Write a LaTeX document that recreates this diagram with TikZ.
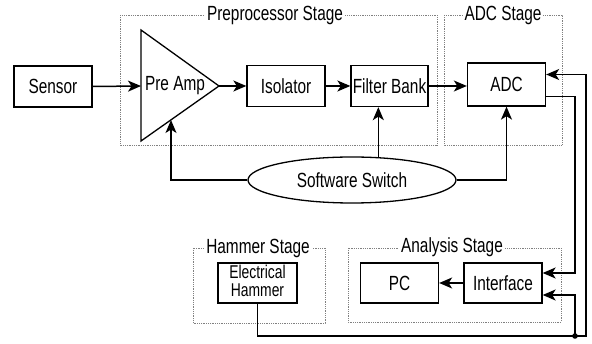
\documentclass[tikz,border=0pt]{standalone}
\usepackage{fontspec}
\setmainfont{Liberation Sans}[FakeStretch=0.75]
\usetikzlibrary{arrows.meta,shapes.geometric,calc}
\begin{document}
\begin{tikzpicture}[x=1pt,y=-1pt,
  txt/.style={font=\fontsize{20.5}{20.5}\selectfont},
  blk/.style={draw, line width=1.3pt, minimum width=78pt, minimum height=41pt, inner sep=0pt, txt},
  stage/.style={draw=black!50, densely dotted, line width=0.8pt},
  stlabel/.style={fill=white, inner sep=2pt, txt},
  conn/.style={line width=1.5pt, -{Stealth[length=13pt,width=11pt,inset=3.5pt]}},
  wire/.style={line width=1.5pt}]
\useasboundingbox (0,0) rectangle (592,344);
% stage frames
\draw[stage] (120,15) rectangle (437,145);
\draw[stage] (444,15) rectangle (562,145);
\draw[stage] (193,248) rectangle (325,323);
\draw[stage] (348,248) rectangle (561,322);
\node[stlabel] (lpre) at (275,15) {Preprocessor Stage};
\node[stlabel] (ladc) at (503,15) {ADC Stage};
\node[stlabel] (lham) at (258,248) {Hammer Stage};
\node[stlabel] (lana) at (452,247) {Analysis Stage};
% blocks
\node[blk] (sensor) at (53,86.5) {Sensor};
\coordinate (ampin) at (141,86);
\coordinate (ampout) at (219,86);
\coordinate (amptop) at (141,30);
\coordinate (ampbase) at (141,141);
\coordinate (ampbot) at (171,120);
\draw[line width=1.3pt, line join=miter] (amptop) -- (ampout) -- (ampbase) -- cycle;
\node[txt, inner sep=0pt] (preamp) at (175,86) {Pre Amp};
\node[blk] (iso) at (286,86) {Isolator};
\node[blk, minimum width=77pt] (filter) at (389.5,86) {Filter Bank};
\node[blk, minimum height=43pt] (adc) at (506.5,84.5) {ADC};
\node[draw, ellipse, line width=1.3pt, minimum width=208pt, minimum height=46pt, inner sep=0pt, txt] (sw) at (352,180) {Software Switch};
\node[blk, minimum height=40pt] (pc) at (399.5,283) {PC};
\node[blk, minimum height=40pt] (iface) at (503,283) {Interface};
\node[draw, line width=1.3pt, minimum width=79pt, minimum height=40pt, inner sep=0pt] (ham) at (257.5,283) {};
\node[font=\fontsize{18.5}{18.5}\selectfont, inner sep=0pt, anchor=base] (hamA) at (257.5,279) {Electrical};
\node[font=\fontsize{18.5}{18.5}\selectfont, inner sep=0pt, anchor=base] (hamB) at (257.5,297) {Hammer};
% connectors
\draw[conn] (sensor.east) -- (ampin);
\draw[conn] (ampout) -- (iso.west);
\draw[conn] (iso.east) -- (filter.west);
\draw[conn] (filter.east) -- (filter.east -| adc.west);
\draw[conn] (sw.west) -| (ampbot);
\draw[conn] (sw.41) -- (sw.41 |- filter.south);
\draw[conn] (sw.east) -| (adc.south);
\coordinate (adcout) at ($(adc.south east)+(0,-10)$);
\coordinate (ifin1) at ($(iface.east)+(0,-10)$);
\coordinate (ifin2) at ($(iface.east)+(0,12)$);
\coordinate (adcin) at ($(adc.east)+(0,-10)$);
\coordinate (dot) at (575,336);
\coordinate (br) at (586,336);
\draw[conn] (adcout) -- (575,0 |- adcout) |- (ifin1);
\draw[conn] (dot) |- (ifin2);
\draw[conn] (ham.south) |- (br) |- (adcin);
\fill (dot) circle (2.8pt);
\draw[conn] (iface.west) -- (pc.east);
\end{tikzpicture}
\end{document}
